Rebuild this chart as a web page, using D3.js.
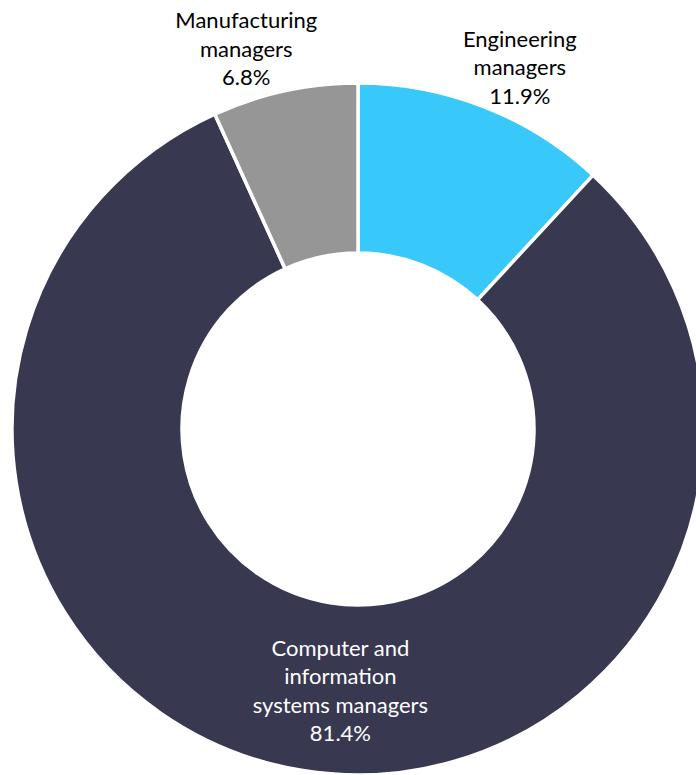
<!DOCTYPE html>
<html>
<head>
<meta charset="utf-8">
<script src="https://cdn.jsdelivr.net/npm/d3@7"></script>
<style>
  html, body { margin: 0; padding: 0; background: #fff; }
  svg { display: block; }
  text { font-family: Lato, "Open Sans", sans-serif; }
</style>
</head>
<body>
<svg id="chart" width="696" height="775"></svg>
<script>
// Share of employment among managers (%)
const categories = ["Engineering managers", "Computer and information systems managers", "Manufacturing managers"];
const values = [11.9, 81.4, 6.8];
const colors = ["#38C8FA", "#383850", "#969696"];
// Label lines, wrapped as they are displayed
const labelLines = [
  ["Engineering", "managers", "11.9%"],
  ["Computer and", "information", "systems managers", "81.4%"],
  ["Manufacturing", "managers", "6.8%"]
];
const labelInside = [false, true, false];

const W = 696, H = 775;
const cx = 358, cy = 429;
const outerR = 346, innerR = 176;
const lineH = 28.5;
const fontSize = 22;

const svg = d3.select("#chart");
const g = svg.append("g").attr("transform", `translate(${cx},${cy})`);

const pie = d3.pie().sort(null).value(d => d.value);
const data = pie(categories.map((c, i) => ({ name: c, value: values[i], i })));

const arc = d3.arc().innerRadius(innerR).outerRadius(outerR);

g.selectAll("path.slice")
  .data(data)
  .join("path")
  .attr("class", "slice")
  .attr("d", arc)
  .attr("fill", d => colors[d.data.i])
  .attr("stroke", "#fff")
  .attr("stroke-width", 3.5)
  .attr("stroke-linejoin", "miter");

// Labels: inside ones sit at the ring's centroid, outside ones beyond the rim
const outerLabelArc = d3.arc().innerRadius(outerR + 40).outerRadius(outerR + 40);
const nudge = [[21, -2], [24, 4], [-30, -2.5]];

data.forEach(d => {
  const i = d.data.i;
  const lines = labelLines[i];
  const p = labelInside[i] ? arc.centroid(d) : outerLabelArc.centroid(d);
  const x = p[0] + nudge[i][0];
  const y = p[1] + nudge[i][1];
  const t = g.append("text")
    .attr("text-anchor", "middle")
    .attr("font-size", fontSize)
    .attr("fill", labelInside[i] ? "#ffffff" : "#000000");
  const top = y - (lines.length - 1) * lineH / 2;
  lines.forEach((ln, k) => {
    t.append("tspan")
      .attr("x", x)
      .attr("y", top + k * lineH)
      .attr("dy", "0.35em")
      .text(ln);
  });
});
</script>
</body>
</html>
